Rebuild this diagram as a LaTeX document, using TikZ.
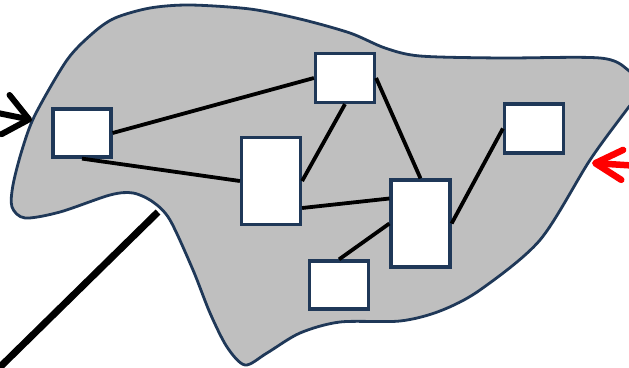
\documentclass[tikz,border=0pt]{standalone}
\usetikzlibrary{arrows.meta}
\definecolor{navy}{HTML}{1F3858}
\definecolor{blobgray}{HTML}{BFBFBF}
\begin{document}
\begin{tikzpicture}[x=1pt,y=-1pt,
  blob/.style={draw=navy,line width=2.8pt,fill=blobgray},
  box/.style={draw=navy,line width=3.2pt,fill=white,rectangle,inner sep=0pt},
  link/.style={draw=black,line width=3.8pt},
  thick link/.style={draw=black,line width=7pt},
  inarrow/.style={draw=black,line width=6pt,line cap=round,
    -{Straight Barb[length=24pt,width=40pt,round]}},
  outarrow/.style={draw=red,line width=6.5pt,line cap=round,
    -{Straight Barb[length=27pt,width=30pt,round]}}]
\useasboundingbox (0,0) rectangle (629,367);
\clip (0,0) rectangle (629,367);

% the region
\draw[blob] plot[smooth cycle,tension=0.5] coordinates {
  (13,185) (22,150) (35,115) (67,60) (93,33) (115,18) (150,8) (190,5)
  (250,9) (300,19) (350,33) (385,48) (420,56) (500,58) (600,58)
  (628,70) (642,90) (628,108) (590,160) (540,240) (480,290) (440,311)
  (400,321) (340,322) (300,333) (267,353) (245,365) (227,347) (210,313)
  (193,270) (170,220) (153,202) (133,193) (110,195) (60,212) (25,218)
  (12,207)};

% blocks
\node[box,minimum width=58pt,minimum height=48pt] (A) at (82,133) {};
\node[box,minimum width=59pt,minimum height=87pt] (B) at (271,181) {};
\node[box,minimum width=59pt,minimum height=49pt] (C) at (345,78) {};
\node[box,minimum width=59pt,minimum height=49pt] (D) at (534,128.5) {};
\node[box,minimum width=59pt,minimum height=87pt] (E) at (420.5,223.5) {};
\node[box,minimum width=59pt,minimum height=48pt] (F) at (339,285) {};

% links between blocks
\draw[link] (A.east) -- (C.west);
\draw[link] (A.south) -- (B.west);
\draw[link] (B.east) -- (C.south);
\draw[link] (C.east) -- (E.north);
\draw[link] ([yshift=-27pt]B.east) -- ([yshift=25pt]E.west);
\draw[link] (E.west) -- (F.north);
\draw[link] (E.east) -- (D.west);

% external connections
\coordinate (inS) at (-12,111);
\coordinate (inT) at (32,120);
\coordinate (outS) at (640,166);
\coordinate (outT) at (592,163);
\coordinate (lineS) at (-4,371);
\coordinate (lineT) at (158,212);
\draw[inarrow] (inS) -- (inT);
\draw[outarrow] (outS) -- (outT);
\draw[thick link] (lineS) -- (lineT);
\end{tikzpicture}
\end{document}
